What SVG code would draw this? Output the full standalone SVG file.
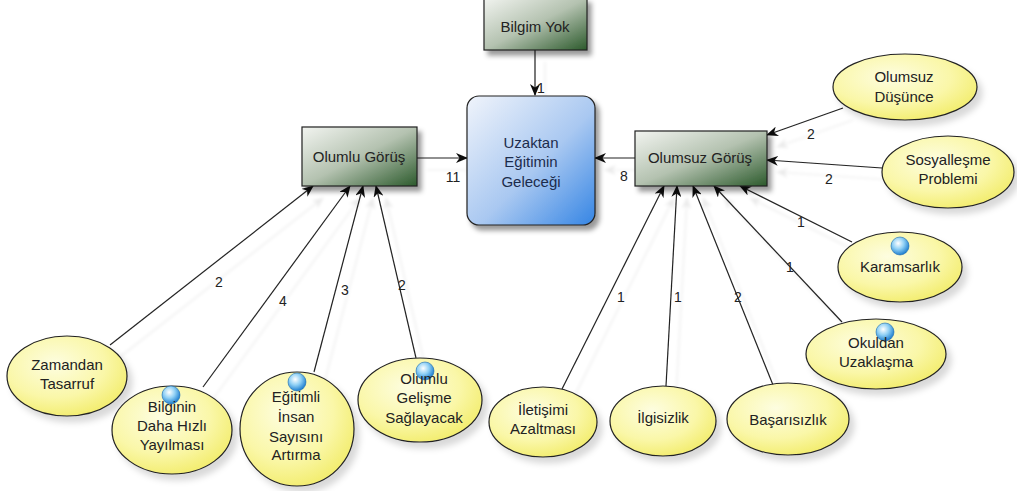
<svg xmlns="http://www.w3.org/2000/svg" width="1017" height="491" viewBox="0 0 1017 491">
<defs>
<linearGradient id="gBox" x1="0" y1="0" x2="1" y2="1">
<stop offset="0" stop-color="#f2f4f0"/>
<stop offset="0.5" stop-color="#b4c2b0"/>
<stop offset="1" stop-color="#2c5a2c"/>
</linearGradient>
<linearGradient id="gCenter" x1="0" y1="0" x2="1" y2="1">
<stop offset="0" stop-color="#f0f4fb"/>
<stop offset="0.55" stop-color="#a9c8f1"/>
<stop offset="1" stop-color="#3585e4"/>
</linearGradient>
<radialGradient id="gEll" cx="0.4" cy="0.35" r="0.7">
<stop offset="0" stop-color="#fdfde0"/>
<stop offset="0.6" stop-color="#faf7a8"/>
<stop offset="1" stop-color="#f2ec6a"/>
</radialGradient>
<radialGradient id="gOrb" cx="0.4" cy="0.35" r="0.65">
<stop offset="0" stop-color="#ffffff"/>
<stop offset="0.5" stop-color="#8fd0f5"/>
<stop offset="1" stop-color="#1f7fd0"/>
</radialGradient>
<filter id="shBox" x="-20%" y="-20%" width="150%" height="160%">
<feDropShadow dx="4" dy="5" stdDeviation="2.5" flood-color="#000" flood-opacity="0.4"/>
</filter>
<filter id="shEll" x="-20%" y="-20%" width="150%" height="160%">
<feDropShadow dx="5" dy="6" stdDeviation="3" flood-color="#000" flood-opacity="0.15"/>
</filter>
<filter id="shLine" x="-20%" y="-20%" width="150%" height="150%">
<feDropShadow dx="10" dy="12" stdDeviation="1.5" flood-color="#000" flood-opacity="0.08"/>
</filter>
<marker id="arr" viewBox="0 0 12 10" refX="11" refY="5" markerWidth="12" markerHeight="10" markerUnits="userSpaceOnUse" orient="auto">
<path d="M0,0 L12,5 L0,10 L3.5,5 z" fill="#111"/>
</marker>
</defs>
<style>
.box{fill:url(#gBox);stroke:#222;stroke-width:1.2;filter:url(#shBox)}
.center{fill:url(#gCenter);stroke:#222;stroke-width:1.2;filter:url(#shBox)}
.ell{fill:url(#gEll);stroke:#222;stroke-width:1.2;filter:url(#shEll)}
.orb{fill:url(#gOrb);stroke:#1a6ab0;stroke-width:0.6}
text{font-family:"Liberation Sans",Arial,sans-serif;font-size:15px;fill:#222;text-anchor:middle}
.ctext{fill:#1c2c4c}
.lbl{font-size:14px;fill:#222}
.con{stroke:#222;stroke-width:1.2;fill:none;marker-end:url(#arr)}
</style>

<g id="connectors" filter="url(#shLine)">
<line class="con" x1="535" y1="50" x2="535" y2="95"/>
<line class="con" x1="417" y1="158" x2="467" y2="158"/>
<line class="con" x1="635" y1="158" x2="595" y2="158"/>
<line class="con" x1="843" y1="108" x2="767" y2="135"/>
<line class="con" x1="882" y1="168" x2="767" y2="160"/>
<line class="con" x1="852" y1="242" x2="740" y2="186"/>
<line class="con" x1="842" y1="322" x2="714" y2="186"/>
<line class="con" x1="773" y1="385" x2="693" y2="186"/>
<line class="con" x1="666" y1="386" x2="677" y2="186"/>
<line class="con" x1="562" y1="389" x2="664" y2="186"/>
<line class="con" x1="110" y1="345" x2="313" y2="186"/>
<line class="con" x1="203" y1="387" x2="350" y2="186"/>
<line class="con" x1="314" y1="372" x2="363" y2="186"/>
<line class="con" x1="416" y1="358" x2="376" y2="186"/>
</g>
<g id="edge-labels">
<text class="lbl" x="541" y="93">1</text>
<text class="lbl" x="453" y="182">11</text>
<text class="lbl" x="624" y="181">8</text>
<text class="lbl" x="811" y="139">2</text>
<text class="lbl" x="829" y="184">2</text>
<text class="lbl" x="801" y="227">1</text>
<text class="lbl" x="790" y="272">1</text>
<text class="lbl" x="738" y="302">2</text>
<text class="lbl" x="678" y="302">1</text>
<text class="lbl" x="621" y="302">1</text>
<text class="lbl" x="219" y="287">2</text>
<text class="lbl" x="283" y="306">4</text>
<text class="lbl" x="345" y="295">3</text>
<text class="lbl" x="402" y="290">2</text>
</g>

<g id="bilgim-yok">
<rect class="box" x="484" y="-2" width="103" height="52"/>
<text x="535" y="32">Bilgim Yok</text>
</g>
<g id="uzaktan">
<rect class="center" x="467" y="96" width="128" height="129" rx="12"/>
<text class="ctext" x="531" y="148">Uzaktan</text>
<text class="ctext" x="531" y="167">Eğitimin</text>
<text class="ctext" x="531" y="187">Geleceği</text>
</g>
<g id="olumlu-gorus">
<rect class="box" x="302" y="127" width="115" height="59"/>
<text x="359" y="162">Olumlu Görüş</text>
</g>
<g id="olumsuz-gorus">
<rect class="box" x="635" y="131" width="132" height="55"/>
<text x="700" y="163">Olumsuz Görüş</text>
</g>

<g id="olumsuz-dusunce">
<ellipse class="ell" cx="905" cy="87" rx="72" ry="33"/>
<text x="904" y="82">Olumsuz</text>
<text x="904" y="102">Düşünce</text>
</g>
<g id="sosyallesme">
<ellipse class="ell" cx="948" cy="172" rx="66" ry="36"/>
<text x="948" y="165">Sosyalleşme</text>
<text x="948" y="184">Problemi</text>
</g>
<g id="karamsarlik">
<ellipse class="ell" cx="900" cy="267" rx="62" ry="35"/>
<circle class="orb" cx="900" cy="246" r="9"/>
<text x="900" y="272">Karamsarlık</text>
</g>
<g id="okuldan">
<ellipse class="ell" cx="876" cy="354" rx="70" ry="35"/>
<circle class="orb" cx="885" cy="332" r="9"/>
<text x="876" y="348">Okuldan</text>
<text x="876" y="367">Uzaklaşma</text>
</g>
<g id="basarisizlik">
<ellipse class="ell" cx="788" cy="419" rx="61" ry="36"/>
<text x="788" y="425">Başarısızlık</text>
</g>
<g id="ilgisizlik">
<ellipse class="ell" cx="663" cy="421" rx="53" ry="35"/>
<text x="663" y="423">İlgisizlik</text>
</g>
<g id="iletisimi">
<ellipse class="ell" cx="543" cy="422" rx="54" ry="35"/>
<text x="543" y="415">İletişimi</text>
<text x="543" y="434">Azaltması</text>
</g>

<g id="zamandan">
<ellipse class="ell" cx="67" cy="376" rx="60" ry="40"/>
<text x="67" y="370">Zamandan</text>
<text x="67" y="389">Tasarruf</text>
</g>
<g id="bilginin">
<ellipse class="ell" cx="172" cy="430" rx="60" ry="44"/>
<circle class="orb" cx="171" cy="395" r="9"/>
<text x="172" y="412">Bilginin</text>
<text x="172" y="431">Daha Hızlı</text>
<text x="172" y="450">Yayılması</text>
</g>
<g id="egitimli">
<ellipse class="ell" cx="297" cy="429" rx="57" ry="57"/>
<circle class="orb" cx="297" cy="382" r="9"/>
<text x="296" y="402">Eğitimli</text>
<text x="296" y="422">İnsan</text>
<text x="296" y="442">Sayısını</text>
<text x="296" y="460">Artırma</text>
</g>
<g id="olumlu-gelisme">
<ellipse class="ell" cx="420" cy="400" rx="62" ry="42"/>
<circle class="orb" cx="425" cy="371" r="9"/>
<text x="424" y="384">Olumlu</text>
<text x="424" y="403">Gelişme</text>
<text x="424" y="423">Sağlayacak</text>
</g>
</svg>
